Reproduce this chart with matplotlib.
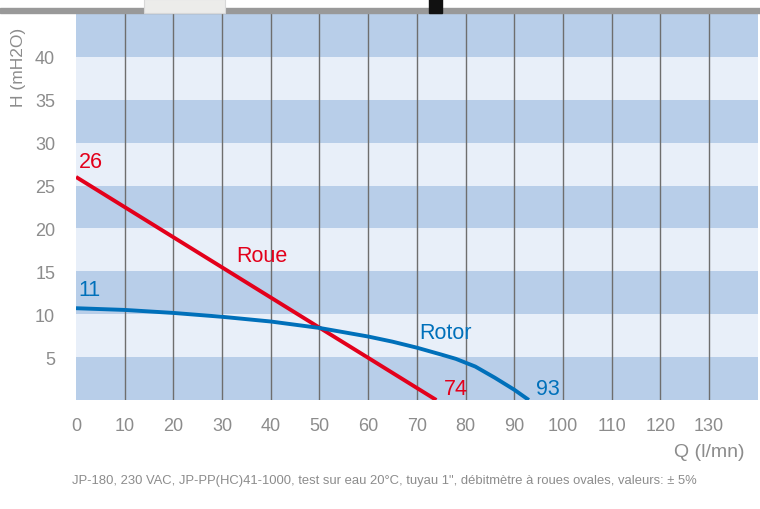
import matplotlib.pyplot as plt
from matplotlib.patches import Rectangle

plt.rcParams['font.family'] = ['Liberation Sans', 'DejaVu Sans']

# data
roue_q = [0, 74]
roue_h = [26, 0]
rotor_q = [0, 10, 20, 30, 40, 50, 60, 65, 70, 75, 78, 82, 86, 88, 90, 93]
rotor_h = [10.7, 10.5, 10.15, 9.7, 9.15, 8.4, 7.4, 6.8, 6.1, 5.3, 4.8, 3.9, 2.6, 1.9, 1.2, 0]
x_ticks = list(range(0, 140, 10))
y_ticks = list(range(5, 45, 5))

red = '#e3001b'
blue = '#0070ba'
dark = '#b8cee9'
light = '#e8eff9'
grey = '#8c8c8c'

fig = plt.figure(figsize=(7.6, 5.1), dpi=100)
ax = fig.add_axes([0.1, 0.2137, 0.897, 0.757])
ax.set_xlim(0, 140)
ax.set_ylim(0, 45)

# horizontal bands
for i, y0 in enumerate(range(0, 45, 5)):
    ax.axhspan(y0, y0 + 5, color=dark if i % 2 == 0 else light, lw=0, zorder=0)
for x in x_ticks[1:]:
    ax.axvline(x, color='#6e6e6e', lw=1, zorder=1)

ax.plot(roue_q, roue_h, color=red, lw=2.8, solid_capstyle='butt', zorder=3)
ax.plot(rotor_q, rotor_h, color=blue, lw=2.8, solid_capstyle='butt',
        solid_joinstyle='round', zorder=3)

tf = dict(fontsize=15.5, zorder=4)
ax.text(0.5, 26.6, '26', color=red, ha='left', va='bottom', **tf)
ax.text(33, 15.6, 'Roue', color=red, ha='left', va='bottom', **tf)
ax.text(0.5, 11.6, '11', color=blue, ha='left', va='bottom', **tf)
ax.text(70.5, 6.6, 'Rotor', color=blue, ha='left', va='bottom', **tf)
ax.text(75.5, 0.1, '74', color=red, ha='left', va='bottom', **tf)
ax.text(94.5, 0.1, '93', color=blue, ha='left', va='bottom', **tf)

ax.set_xticks(x_ticks)
ax.set_yticks(y_ticks)
ax.tick_params(length=0, labelsize=13, labelcolor=grey)
ax.tick_params(axis='x', pad=12)
ax.tick_params(axis='y', pad=15)
for s in ax.spines.values():
    s.set_visible(False)

# grey bar across the top and the bits of picture above it
fig.patches.append(Rectangle((0, 0.972), 1, 0.01, transform=fig.transFigure,
                             color='#999999', zorder=5))
fig.patches.append(Rectangle((0.19, 0.972), 0.106, 0.028, transform=fig.transFigure,
                             facecolor='#ececea', edgecolor='#d8d8d8', lw=0.8, zorder=6))
fig.patches.append(Rectangle((0.564, 0.972), 0.018, 0.028, transform=fig.transFigure,
                             color='#111111', zorder=6))

fig.text(0.024, 0.945, 'H (mH2O)', rotation=90, ha='center', va='top',
         fontsize=12.5, color=grey)
fig.text(0.98, 0.112, 'Q (l/mn)', ha='right', va='center', fontsize=14,
         color=grey)
fig.text(0.095, 0.057, 'JP-180, 230 VAC, JP-PP(HC)41-1000, test sur eau 20°C, '
         'tuyau 1", débitmètre à roues ovales, valeurs: ± 5%',
         ha='left', va='center', fontsize=9.4, color=grey)

fig.savefig('out.png', dpi=100)
